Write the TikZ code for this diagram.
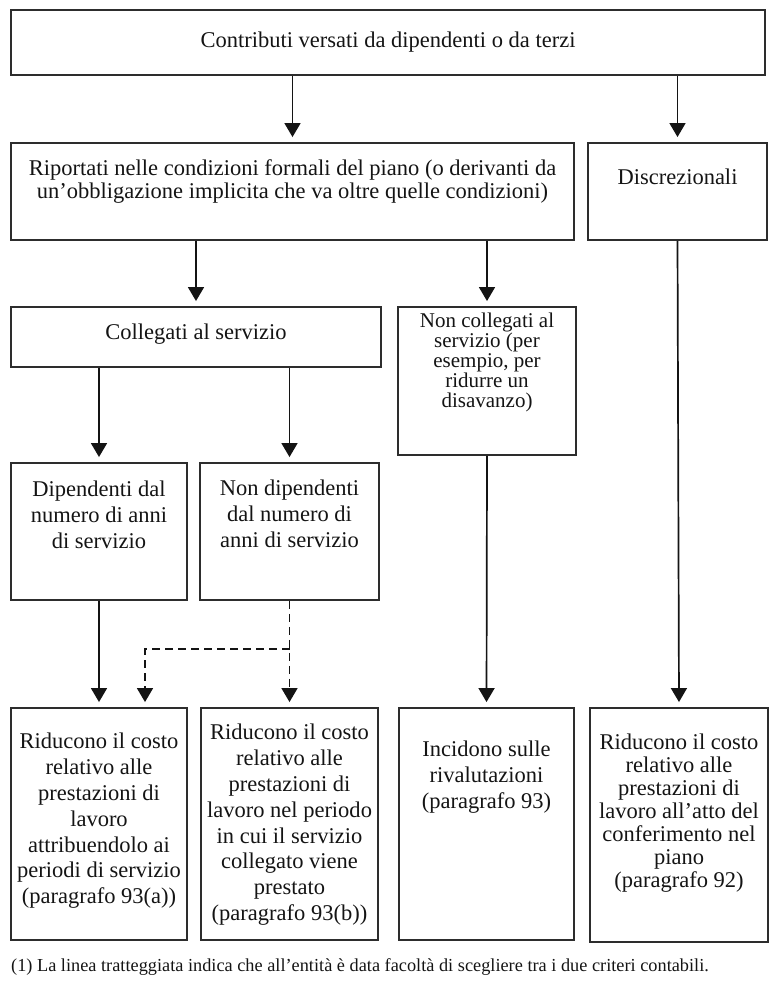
\documentclass[tikz,border=0pt]{standalone}
\usepackage{fontspec}
\setmainfont{Liberation Serif}
\usepackage{tikz}
\usetikzlibrary{arrows.meta, positioning}
\definecolor{myink}{RGB}{20,20,20}
\definecolor{myframe}{RGB}{45,45,45}
\tikzset{
  box/.style={rectangle, draw=myframe, line width=1.9pt, inner sep=0pt},
  txt/.style={align=center, inner sep=0pt, text=myink,
    font=\fontsize{22.5}{25.8}\selectfont},
  tighttxt/.style={txt, font=\fontsize{22.5}{23}\selectfont},
  smalltxt/.style={txt, font=\fontsize{21}{20}\selectfont},
  note/.style={inner sep=0pt, text=myink, font=\fontsize{18.3}{20}\selectfont},
  arrow/.style={-{Triangle[length=14pt,width=16pt]}, line width=1.7pt,
    color=myink, shorten >=5pt},
  dasharrow/.style={arrow, dash pattern=on 8pt off 5pt}
}

\begin{document}
\begin{tikzpicture}[x=1pt, y=-1pt]
  \useasboundingbox (0,0) rectangle (774,981);

  % Top level
  \node[box, minimum width=754pt, minimum height=65pt] (contrib) at (388,42.5) {};
  \node[txt, below=23pt of contrib.north] (contrib-t) {Contributi versati da dipendenti o da terzi};

  % Second level
  \node[box, minimum width=563pt, minimum height=97pt] (form) at (292.5,191.5) {};
  \node[tighttxt, below=17pt of form.north] (form-t) {Riportati nelle condizioni formali del piano (o derivanti da\\un’obbligazione implicita che va oltre quelle condizioni)};
  \node[box, minimum width=179pt, minimum height=97pt] (discr) at (677.5,191.5) {};
  \node[txt, below=27pt of discr.north] (discr-t) {Discrezionali};

  % Third level
  \node[box, minimum width=370pt, minimum height=60pt] (coll) at (196,337) {};
  \node[txt, below=18pt of coll.north] (coll-t) {Collegati al servizio};
  \node[box, minimum width=178pt, minimum height=148pt] (noncoll) at (487,381) {};
  \node[smalltxt, below=7pt of noncoll.north] (noncoll-t) {Non collegati al\\servizio (per\\esempio, per\\ridurre un\\disavanzo)};

  % Fourth level
  \node[box, minimum width=176pt, minimum height=137pt] (dip) at (99,531.5) {};
  \node[txt, below=19pt of dip.north] (dip-t) {Dipendenti dal\\numero di anni\\di servizio};
  \node[box, minimum width=179pt, minimum height=137pt] (nondip) at (289.5,531.5) {};
  \node[txt, below=18pt of nondip.north] (nondip-t) {Non dipendenti\\dal numero di\\anni di servizio};

  % Effects
  \node[box, minimum width=176pt, minimum height=232pt] (redA) at (99,824) {};
  \node[txt, below=26pt of redA.north] (redA-t) {Riducono il costo\\relativo alle\\prestazioni di\\lavoro\\attribuendolo ai\\periodi di servizio\\(paragrafo 93(a))};
  \node[box, minimum width=177pt, minimum height=232pt] (redB) at (289.5,824) {};
  \node[txt, below=17pt of redB.north] (redB-t) {Riducono il costo\\relativo alle\\prestazioni di\\lavoro nel periodo\\in cui il servizio\\collegato viene\\prestato\\(paragrafo 93(b))};
  \node[box, minimum width=175pt, minimum height=232pt] (reval) at (486.5,824) {};
  \node[txt, below=34pt of reval.north] (reval-t) {Incidono sulle\\rivalutazioni\\(paragrafo 93)};
  \node[box, minimum width=178pt, minimum height=234pt] (redC) at (679,825) {};
  \node[tighttxt, below=27pt of redC.north] (redC-t) {Riducono il costo\\relativo alle\\prestazioni di\\lavoro all’atto del\\conferimento nel\\piano\\(paragrafo 92)};

  % Footnote
  \node[note, anchor=west] (note) at (11,967) {(1) La linea tratteggiata indica che all’entità è data facoltà di scegliere tra i due criteri contabili.};

  \draw[arrow] (contrib.south -| form.north) -- (form.north);
  \draw[arrow] (contrib.south -| discr.north) -- (discr.north);
  \draw[arrow] (form.south -| coll.north) -- (coll.north);
  \draw[arrow] (form.south -| noncoll.north) -- (noncoll.north);
  \draw[arrow] (coll.south -| dip.north) -- (dip.north);
  \draw[arrow] (coll.south -| nondip.north) -- (nondip.north);
  \draw[arrow] (dip.south) -- (redA.north);
  \draw[arrow] (noncoll.south) -- (reval.north);
  \draw[arrow] (discr.south) -- (redC.north);
  \coordinate[below=48pt of nondip.south] (split);
  \draw[dasharrow] (nondip.south) -- (redB.north);
  \draw[dasharrow] (split) -| ([xshift=46pt]redA.north);
\end{tikzpicture}
\end{document}
